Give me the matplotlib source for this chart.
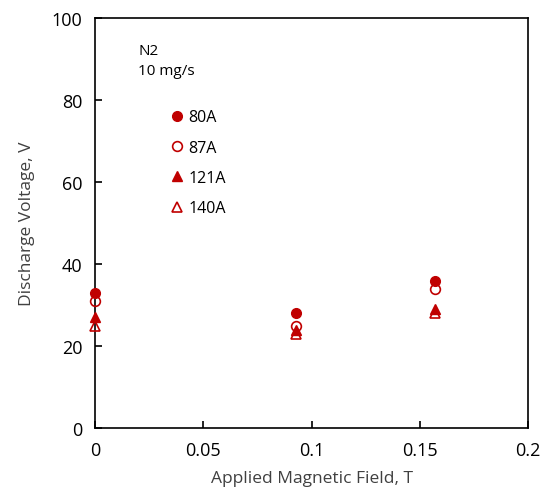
import matplotlib.pyplot as plt

plt.rcParams["font.family"] = ["Open Sans", "DejaVu Sans"]

field = [0.0, 0.093, 0.157]
v_80a = [33, 28, 36]
v_87a = [31, 25, 34]
v_121a = [27, 24, 29]
v_140a = [25, 23, 28]

red = "#C00000"

fig = plt.figure(figsize=(5.48, 5.02), dpi=100)
ax = fig.add_axes([0.173, 0.145, 0.791, 0.817])

ax.plot(field, v_80a, "o", color=red, ms=7, label="80A", clip_on=False, zorder=3)
ax.plot(field, v_87a, "o", mfc="none", mec=red, mew=1.2, ms=7, label="87A",
        clip_on=False, zorder=3)
ax.plot(field, v_121a, "^", color=red, ms=7, label="121A", clip_on=False, zorder=3)
ax.plot(field, v_140a, "^", mfc="none", mec=red, mew=1.2, ms=7, label="140A",
        clip_on=False, zorder=3)

ax.set_xlim(0, 0.2)
ax.set_ylim(0, 100)
ax.set_xticks([0, 0.05, 0.1, 0.15, 0.2])
ax.set_xticklabels(["0", "0.05", "0.1", "0.15", "0.2"])
ax.set_yticks(range(0, 101, 20))
ax.tick_params(direction="in", length=5, width=1.2, labelsize=13, pad=9)
for s in ax.spines.values():
    s.set_linewidth(1.2)

ax.set_xlabel("Applied Magnetic Field, T", fontsize=12.5, color="#404040", labelpad=8)
ax.set_ylabel("Discharge Voltage, V", fontsize=12.5, color="#404040", labelpad=12)

ax.text(0.1, 0.94, "N2\n10 mg/s", transform=ax.transAxes, fontsize=11,
        va="top", linespacing=1.5)
ax.legend(loc="upper left", bbox_to_anchor=(0.15, 0.797), frameon=False,
          fontsize=11.5, handletextpad=0.1, labelspacing=0.9,
          handlelength=1.2, borderpad=0)

fig.savefig("out.png", dpi=100)
